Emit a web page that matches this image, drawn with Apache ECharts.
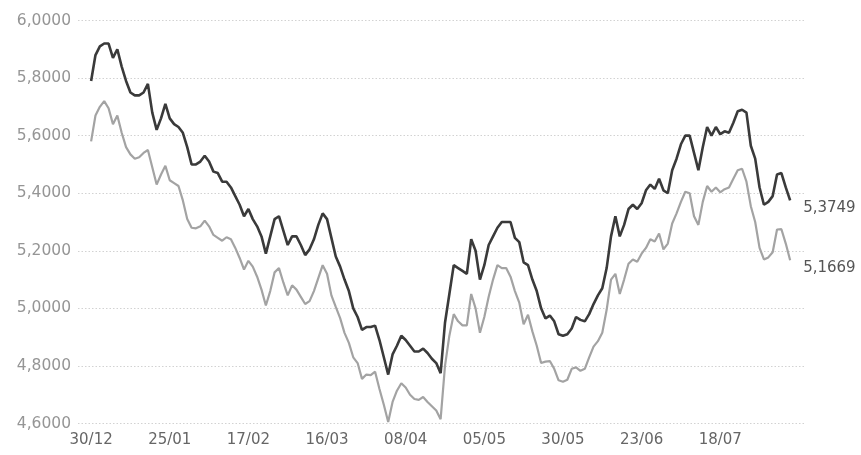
<!DOCTYPE html>
<html>
<head>
<meta charset="utf-8">
<script src="https://cdn.jsdelivr.net/npm/echarts@6/dist/echarts.min.js"></script>
<style>
html,body{margin:0;padding:0;background:#fff;}
#chart{width:861px;height:455px;}
</style>
</head>
<body>
<div id="chart"></div>
<script>
// X-axis tick labels (one every 18 trading days)
const tickLabels = ['30/12','25/01','17/02','16/03','08/04','05/05','30/05','23/06','18/07'];
const labelStep = 18;

// Upper (dark) series
const darkSeries = [
  5.79, 5.88, 5.91, 5.92, 5.92, 5.87, 5.90, 5.84, 5.79, 5.75,
  5.74, 5.74, 5.75, 5.78, 5.68, 5.62, 5.66, 5.71, 5.66, 5.64,
  5.63, 5.61, 5.56, 5.50, 5.50, 5.51, 5.53, 5.51, 5.475, 5.47,
  5.44, 5.44, 5.42, 5.39, 5.36, 5.32, 5.345, 5.31, 5.285, 5.25,
  5.19, 5.25, 5.31, 5.32, 5.27, 5.22, 5.25, 5.25, 5.22, 5.185,
  5.205, 5.24, 5.29, 5.33, 5.31, 5.245, 5.18, 5.145, 5.10, 5.06,
  5.00, 4.97, 4.925, 4.935, 4.935, 4.94, 4.89, 4.83, 4.77, 4.84,
  4.87, 4.905, 4.89, 4.87, 4.85, 4.85, 4.86, 4.845, 4.825, 4.81,
  4.775, 4.95, 5.05, 5.15, 5.14, 5.13, 5.12, 5.24, 5.20, 5.10,
  5.15, 5.22, 5.25, 5.28, 5.30, 5.30, 5.30, 5.245, 5.23, 5.16,
  5.15, 5.10, 5.06, 5.00, 4.965, 4.975, 4.955, 4.91, 4.905, 4.91,
  4.93, 4.97, 4.96, 4.955, 4.98, 5.015, 5.045, 5.07, 5.14, 5.25,
  5.32, 5.25, 5.29, 5.345, 5.36, 5.345, 5.365, 5.41, 5.43, 5.415,
  5.45, 5.41, 5.40, 5.48, 5.52, 5.57, 5.60, 5.60, 5.54, 5.48,
  5.56, 5.63, 5.60, 5.63, 5.605, 5.615, 5.61, 5.645, 5.685, 5.69,
  5.68, 5.565, 5.52, 5.42, 5.36, 5.37, 5.39, 5.465, 5.47, 5.42,
  5.3749
];

// Lower (light) series
const lightSeries = [
  5.58, 5.67, 5.70, 5.72, 5.695, 5.64, 5.67, 5.61, 5.56, 5.535,
  5.52, 5.525, 5.54, 5.55, 5.49, 5.43, 5.465, 5.495, 5.445, 5.435,
  5.425, 5.375, 5.31, 5.28, 5.278, 5.285, 5.305, 5.285, 5.255, 5.245,
  5.235, 5.247, 5.24, 5.21, 5.175, 5.135, 5.165, 5.145, 5.11, 5.065,
  5.01, 5.06, 5.125, 5.14, 5.09, 5.045, 5.08, 5.065, 5.04, 5.015,
  5.025, 5.06, 5.105, 5.15, 5.12, 5.045, 5.005, 4.966, 4.915, 4.88,
  4.83, 4.81, 4.755, 4.77, 4.768, 4.78, 4.72, 4.665, 4.605, 4.675,
  4.714, 4.74, 4.725, 4.70, 4.685, 4.682, 4.692, 4.675, 4.66, 4.645,
  4.615, 4.80, 4.905, 4.98, 4.955, 4.941, 4.941, 5.05, 5.00, 4.915,
  4.97, 5.04, 5.10, 5.15, 5.14, 5.14, 5.11, 5.06, 5.02, 4.945,
  4.978, 4.92, 4.87, 4.81, 4.815, 4.817, 4.79, 4.75, 4.745, 4.752,
  4.79, 4.795, 4.783, 4.79, 4.83, 4.867, 4.886, 4.915, 4.995, 5.10,
  5.12, 5.05, 5.10, 5.155, 5.17, 5.162, 5.19, 5.21, 5.24, 5.232,
  5.26, 5.205, 5.225, 5.295, 5.33, 5.37, 5.405, 5.40, 5.32, 5.29,
  5.37, 5.425, 5.405, 5.42, 5.403, 5.414, 5.42, 5.45, 5.48, 5.485,
  5.44, 5.355, 5.30, 5.21, 5.17, 5.177, 5.195, 5.274, 5.275, 5.225,
  5.1669
];

const fmt = v => v.toFixed(4).replace('.', ',');
const labelPositions = tickLabels.map((_, k) => k * labelStep);

const chart = echarts.init(document.getElementById('chart'), null, {renderer: 'canvas'});
chart.setOption({
  backgroundColor: '#ffffff',
  animation: false,
  grid: {left: 78, right: 56, top: 20.5, bottom: 31.5, containLabel: false},
  xAxis: {
    type: 'value',
    min: -3,
    max: 163.4,
    axisLine: {show: false},
    axisTick: {show: false},
    splitLine: {show: false},
    axisLabel: {
      customValues: labelPositions,
      formatter: v => tickLabels[Math.round(v / labelStep)] || '',
      color: '#666666',
      fontFamily: 'DejaVu Sans',
      fontSize: 15,
      margin: 9
    }
  },
  yAxis: {
    type: 'value',
    min: 4.6,
    max: 6.0,
    interval: 0.2,
    axisLine: {show: false},
    axisTick: {show: false},
    splitLine: {show: true, lineStyle: {color: '#d2d2d2', type: [1.5, 2], width: 1}},
    axisLabel: {
      formatter: v => fmt(v),
      color: '#959595',
      fontFamily: 'DejaVu Sans',
      fontSize: 15.5,
      margin: 7
    }
  },
  series: [
    {
      type: 'line',
      data: lightSeries.map((v, i) => [i, v]),
      symbol: 'none',
      lineStyle: {color: '#a3a3a3', width: 2.2},
      endLabel: {
        show: true,
        formatter: p => fmt(p.value[1]),
        color: '#555555',
        fontFamily: 'DejaVu Sans',
        fontSize: 15,
        distance: 13,
        offset: [0, 8]
      },
      z: 2
    },
    {
      type: 'line',
      data: darkSeries.map((v, i) => [i, v]),
      symbol: 'none',
      lineStyle: {color: '#3a3a3a', width: 2.6},
      endLabel: {
        show: true,
        formatter: p => fmt(p.value[1]),
        color: '#555555',
        fontFamily: 'DejaVu Sans',
        fontSize: 15,
        distance: 13,
        offset: [0, 8]
      },
      z: 3
    }
  ]
});
</script>
</body>
</html>
